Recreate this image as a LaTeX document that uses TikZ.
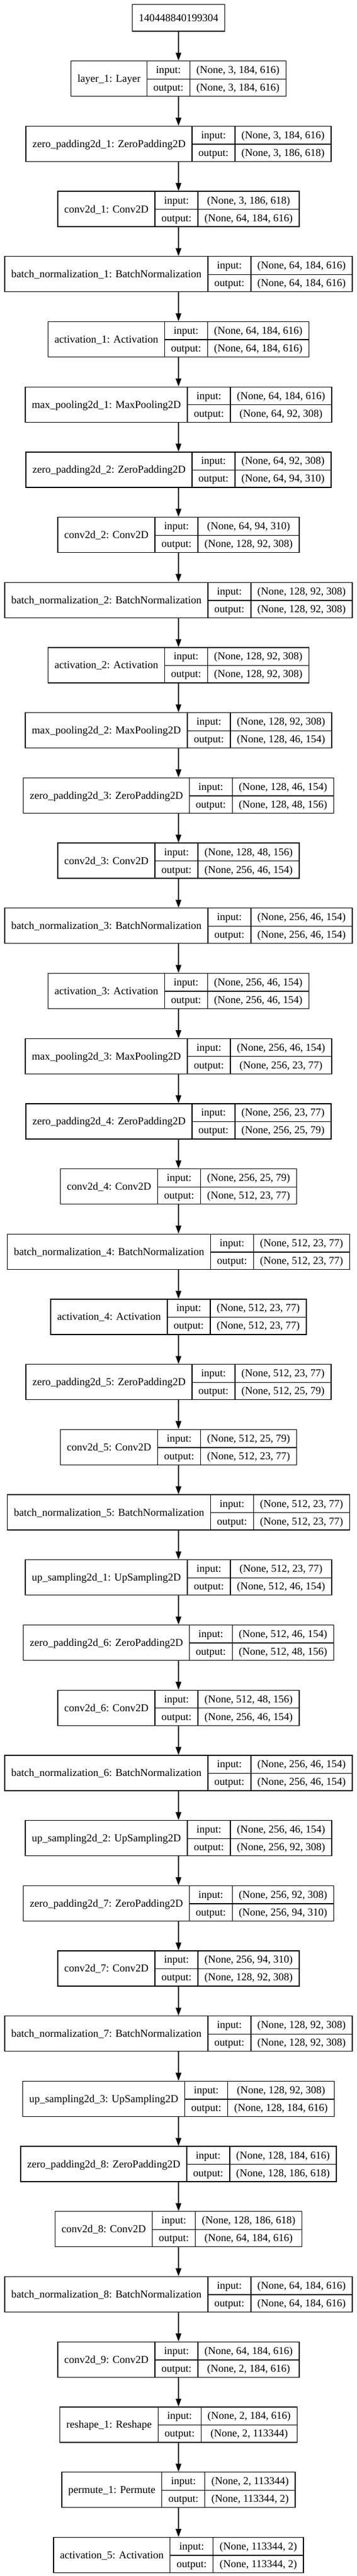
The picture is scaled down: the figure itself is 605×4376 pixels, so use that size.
\documentclass[tikz,border=0pt]{standalone}
\usepackage{fontspec}
\setmainfont{Liberation Serif}
\usetikzlibrary{
	arrows.meta,
	positioning
}
\setlength{\arrayrulewidth}{1.3pt}
\setlength{\tabcolsep}{11pt}
\newcommand{\layerrec}[3]{%
	\begin{tabular}{c|c|c}
		\raisebox{-15pt}[0pt][0pt]{#1} & input: & #2\\ \cline{2-3}
		& output: & #3
	\end{tabular}}

\begin{document}
\begin{tikzpicture}[
		x=1pt, y=1pt,
		node distance = 49.4pt,
		layerbox/.style={
			draw,
			rectangle,
			line width=1.3pt,
			inner sep=0pt,
			font=\fontsize{18}{30}\selectfont
		},
		idbox/.style={
			layerbox,
			inner xsep=11pt,
			minimum height=45.3pt
		},
		arr/.style={
			draw,
			line width=1.3pt,
			-{Triangle[length=13.5pt,width=9.5pt]}
		}
	]
	\useasboundingbox (0,0) rectangle (605,-4376);

	\node[idbox] (inp) at (303,-30.3) {140448840199304};
	\node[layerbox, below = of inp] (lay1) {\layerrec{layer\_1: Layer}{(None, 3, 184, 616)}{(None, 3, 184, 616)}};
	\node[layerbox, below = of lay1] (zp1) {\layerrec{zero\_padding2d\_1: ZeroPadding2D}{(None, 3, 184, 616)}{(None, 3, 186, 618)}};
	\node[layerbox, below = of zp1] (cv1) {\layerrec{conv2d\_1: Conv2D}{(None, 3, 186, 618)}{(None, 64, 184, 616)}};
	\node[layerbox, below = of cv1] (bn1) {\layerrec{batch\_normalization\_1: BatchNormalization}{(None, 64, 184, 616)}{(None, 64, 184, 616)}};
	\node[layerbox, below = of bn1] (ac1) {\layerrec{activation\_1: Activation}{(None, 64, 184, 616)}{(None, 64, 184, 616)}};
	\node[layerbox, below = of ac1] (mp1) {\layerrec{max\_pooling2d\_1: MaxPooling2D}{(None, 64, 184, 616)}{(None, 64, 92, 308)}};
	\node[layerbox, below = of mp1] (zp2) {\layerrec{zero\_padding2d\_2: ZeroPadding2D}{(None, 64, 92, 308)}{(None, 64, 94, 310)}};
	\node[layerbox, below = of zp2] (cv2) {\layerrec{conv2d\_2: Conv2D}{(None, 64, 94, 310)}{(None, 128, 92, 308)}};
	\node[layerbox, below = of cv2] (bn2) {\layerrec{batch\_normalization\_2: BatchNormalization}{(None, 128, 92, 308)}{(None, 128, 92, 308)}};
	\node[layerbox, below = of bn2] (ac2) {\layerrec{activation\_2: Activation}{(None, 128, 92, 308)}{(None, 128, 92, 308)}};
	\node[layerbox, below = of ac2] (mp2) {\layerrec{max\_pooling2d\_2: MaxPooling2D}{(None, 128, 92, 308)}{(None, 128, 46, 154)}};
	\node[layerbox, below = of mp2] (zp3) {\layerrec{zero\_padding2d\_3: ZeroPadding2D}{(None, 128, 46, 154)}{(None, 128, 48, 156)}};
	\node[layerbox, below = of zp3] (cv3) {\layerrec{conv2d\_3: Conv2D}{(None, 128, 48, 156)}{(None, 256, 46, 154)}};
	\node[layerbox, below = of cv3] (bn3) {\layerrec{batch\_normalization\_3: BatchNormalization}{(None, 256, 46, 154)}{(None, 256, 46, 154)}};
	\node[layerbox, below = of bn3] (ac3) {\layerrec{activation\_3: Activation}{(None, 256, 46, 154)}{(None, 256, 46, 154)}};
	\node[layerbox, below = of ac3] (mp3) {\layerrec{max\_pooling2d\_3: MaxPooling2D}{(None, 256, 46, 154)}{(None, 256, 23, 77)}};
	\node[layerbox, below = of mp3] (zp4) {\layerrec{zero\_padding2d\_4: ZeroPadding2D}{(None, 256, 23, 77)}{(None, 256, 25, 79)}};
	\node[layerbox, below = of zp4] (cv4) {\layerrec{conv2d\_4: Conv2D}{(None, 256, 25, 79)}{(None, 512, 23, 77)}};
	\node[layerbox, below = of cv4] (bn4) {\layerrec{batch\_normalization\_4: BatchNormalization}{(None, 512, 23, 77)}{(None, 512, 23, 77)}};
	\node[layerbox, below = of bn4] (ac4) {\layerrec{activation\_4: Activation}{(None, 512, 23, 77)}{(None, 512, 23, 77)}};
	\node[layerbox, below = of ac4] (zp5) {\layerrec{zero\_padding2d\_5: ZeroPadding2D}{(None, 512, 23, 77)}{(None, 512, 25, 79)}};
	\node[layerbox, below = of zp5] (cv5) {\layerrec{conv2d\_5: Conv2D}{(None, 512, 25, 79)}{(None, 512, 23, 77)}};
	\node[layerbox, below = of cv5] (bn5) {\layerrec{batch\_normalization\_5: BatchNormalization}{(None, 512, 23, 77)}{(None, 512, 23, 77)}};
	\node[layerbox, below = of bn5] (up1) {\layerrec{up\_sampling2d\_1: UpSampling2D}{(None, 512, 23, 77)}{(None, 512, 46, 154)}};
	\node[layerbox, below = of up1] (zp6) {\layerrec{zero\_padding2d\_6: ZeroPadding2D}{(None, 512, 46, 154)}{(None, 512, 48, 156)}};
	\node[layerbox, below = of zp6] (cv6) {\layerrec{conv2d\_6: Conv2D}{(None, 512, 48, 156)}{(None, 256, 46, 154)}};
	\node[layerbox, below = of cv6] (bn6) {\layerrec{batch\_normalization\_6: BatchNormalization}{(None, 256, 46, 154)}{(None, 256, 46, 154)}};
	\node[layerbox, below = of bn6] (up2) {\layerrec{up\_sampling2d\_2: UpSampling2D}{(None, 256, 46, 154)}{(None, 256, 92, 308)}};
	\node[layerbox, below = of up2] (zp7) {\layerrec{zero\_padding2d\_7: ZeroPadding2D}{(None, 256, 92, 308)}{(None, 256, 94, 310)}};
	\node[layerbox, below = of zp7] (cv7) {\layerrec{conv2d\_7: Conv2D}{(None, 256, 94, 310)}{(None, 128, 92, 308)}};
	\node[layerbox, below = of cv7] (bn7) {\layerrec{batch\_normalization\_7: BatchNormalization}{(None, 128, 92, 308)}{(None, 128, 92, 308)}};
	\node[layerbox, below = of bn7] (up3) {\layerrec{up\_sampling2d\_3: UpSampling2D}{(None, 128, 92, 308)}{(None, 128, 184, 616)}};
	\node[layerbox, below = of up3] (zp8) {\layerrec{zero\_padding2d\_8: ZeroPadding2D}{(None, 128, 184, 616)}{(None, 128, 186, 618)}};
	\node[layerbox, below = of zp8] (cv8) {\layerrec{conv2d\_8: Conv2D}{(None, 128, 186, 618)}{(None, 64, 184, 616)}};
	\node[layerbox, below = of cv8] (bn8) {\layerrec{batch\_normalization\_8: BatchNormalization}{(None, 64, 184, 616)}{(None, 64, 184, 616)}};
	\node[layerbox, below = of bn8] (cv9) {\layerrec{conv2d\_9: Conv2D}{(None, 64, 184, 616)}{(None, 2, 184, 616)}};
	\node[layerbox, below = of cv9] (rs1) {\layerrec{reshape\_1: Reshape}{(None, 2, 184, 616)}{(None, 2, 113344)}};
	\node[layerbox, below = of rs1] (pm1) {\layerrec{permute\_1: Permute}{(None, 2, 113344)}{(None, 113344, 2)}};
	\node[layerbox, below = of pm1] (ac5) {\layerrec{activation\_5: Activation}{(None, 113344, 2)}{(None, 113344, 2)}};

	\draw[arr] (inp) -- (lay1);
	\draw[arr] (lay1) -- (zp1);
	\draw[arr] (zp1) -- (cv1);
	\draw[arr] (cv1) -- (bn1);
	\draw[arr] (bn1) -- (ac1);
	\draw[arr] (ac1) -- (mp1);
	\draw[arr] (mp1) -- (zp2);
	\draw[arr] (zp2) -- (cv2);
	\draw[arr] (cv2) -- (bn2);
	\draw[arr] (bn2) -- (ac2);
	\draw[arr] (ac2) -- (mp2);
	\draw[arr] (mp2) -- (zp3);
	\draw[arr] (zp3) -- (cv3);
	\draw[arr] (cv3) -- (bn3);
	\draw[arr] (bn3) -- (ac3);
	\draw[arr] (ac3) -- (mp3);
	\draw[arr] (mp3) -- (zp4);
	\draw[arr] (zp4) -- (cv4);
	\draw[arr] (cv4) -- (bn4);
	\draw[arr] (bn4) -- (ac4);
	\draw[arr] (ac4) -- (zp5);
	\draw[arr] (zp5) -- (cv5);
	\draw[arr] (cv5) -- (bn5);
	\draw[arr] (bn5) -- (up1);
	\draw[arr] (up1) -- (zp6);
	\draw[arr] (zp6) -- (cv6);
	\draw[arr] (cv6) -- (bn6);
	\draw[arr] (bn6) -- (up2);
	\draw[arr] (up2) -- (zp7);
	\draw[arr] (zp7) -- (cv7);
	\draw[arr] (cv7) -- (bn7);
	\draw[arr] (bn7) -- (up3);
	\draw[arr] (up3) -- (zp8);
	\draw[arr] (zp8) -- (cv8);
	\draw[arr] (cv8) -- (bn8);
	\draw[arr] (bn8) -- (cv9);
	\draw[arr] (cv9) -- (rs1);
	\draw[arr] (rs1) -- (pm1);
	\draw[arr] (pm1) -- (ac5);
\end{tikzpicture}
\end{document}
